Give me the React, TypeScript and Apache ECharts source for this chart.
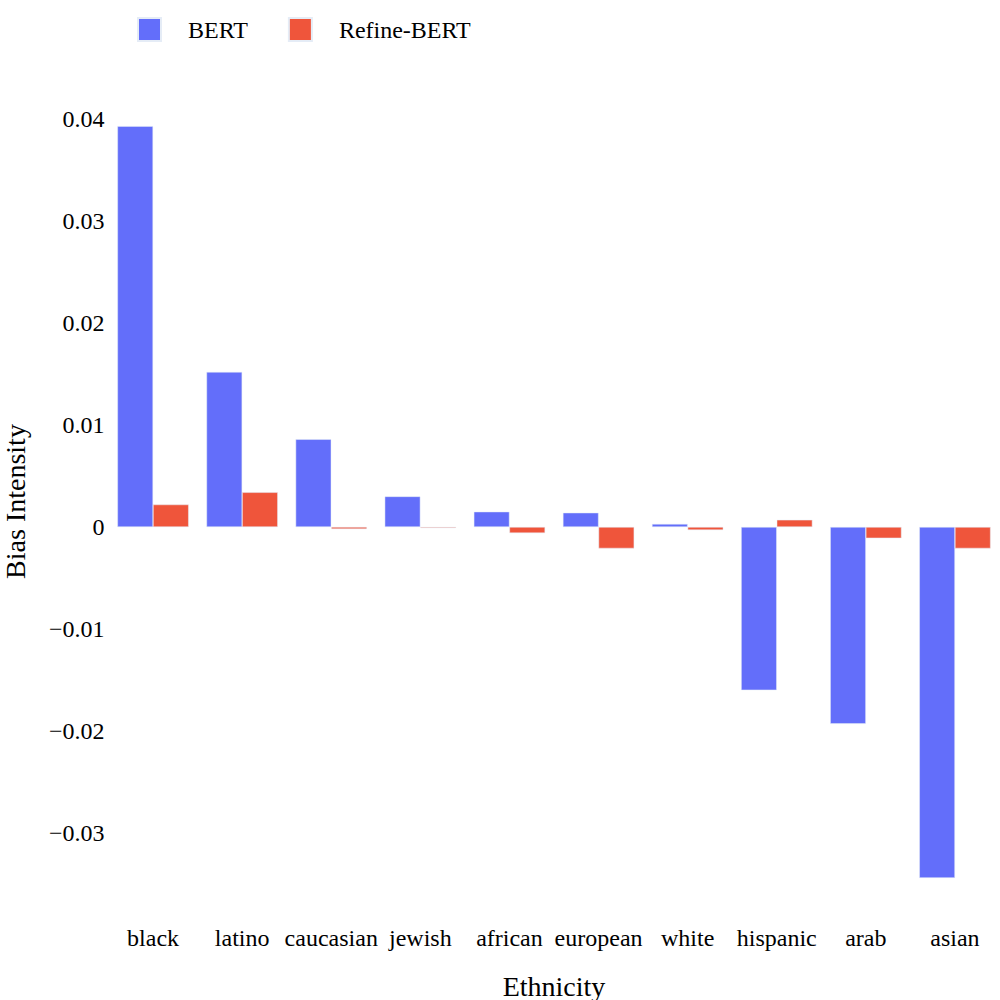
import React, { useEffect, useRef } from "react";
import * as echarts from "echarts";

const categories = ["black", "latino", "caucasian", "jewish", "african", "european", "white", "hispanic", "arab", "asian"];
const bertValues = [0.0393, 0.0152, 0.0086, 0.0030, 0.0015, 0.0014, 0.0003, -0.0160, -0.0193, -0.0344];
const refineValues = [0.0022, 0.0034, -0.0002, -0.0001, -0.0006, -0.0021, -0.0003, 0.0007, -0.0011, -0.0021];
const seriesNames = ["BERT", "Refine-BERT"];
const colors = ["#636EFA", "#EF553B"];

const FONT = "'Liberation Serif', 'Times New Roman', serif";

export default function App() {
  const ref = useRef<HTMLDivElement>(null);
  useEffect(() => {
    if (!ref.current) return;
    const chart = echarts.init(ref.current, undefined, { renderer: "svg" });
    chart.setOption({
      animation: false,
      backgroundColor: "#ffffff",
      textStyle: { fontFamily: FONT, color: "#000" },
      legend: {
        top: 12,
        left: 132,
        itemWidth: 23,
        itemHeight: 23,
        itemGap: 40,
        icon: "rect",
        data: seriesNames,
        textStyle: { fontFamily: FONT, fontSize: 24, color: "#000", padding: [0, 0, 0, 22] },
      },
      grid: { left: 108.5, right: 0.5, top: 119, bottom: 116, containLabel: false, outerBoundsMode: "none" },
      xAxis: {
        type: "category",
        data: categories,
        name: "Ethnicity",
        nameLocation: "middle",
        nameGap: 88,
        nameTextStyle: { fontFamily: FONT, fontSize: 28, color: "#000" },
        axisLine: { show: false, onZero: false },
        axisTick: { show: false },
        axisLabel: { fontFamily: FONT, fontSize: 24, color: "#000", margin: 42, interval: 0 },
      },
      yAxis: {
        type: "value",
        min: -0.035,
        max: 0.04,
        interval: 0.005,
        name: "Bias Intensity",
        nameLocation: "middle",
        nameGap: 79,
        nameTextStyle: { fontFamily: FONT, fontSize: 28, color: "#000" },
        axisLine: { show: false },
        axisTick: { show: false },
        splitLine: { show: false },
        axisLabel: {
          fontFamily: FONT,
          fontSize: 24,
          color: "#000",
          margin: 4,
          formatter: (v: number) => {
            const k = Math.round(v * 1000);
            if (k % 10 !== 0) return "";
            if (k === 0) return "0";
            const s = (Math.abs(k) / 1000).toFixed(2);
            return k < 0 ? "\u2212" + s : s;
          },
        },
      },
      series: [
        {
          name: seriesNames[0],
          type: "bar",
          data: bertValues,
          barGap: "0%",
          barCategoryGap: "20%",
          itemStyle: { color: colors[0], borderColor: "#E5ECF6", borderWidth: 0.5 },
        },
        {
          name: seriesNames[1],
          type: "bar",
          data: refineValues,
          barGap: "0%",
          barCategoryGap: "20%",
          itemStyle: { color: colors[1], borderColor: "#E5ECF6", borderWidth: 0.5 },
        },
      ],
    });
    return () => chart.dispose();
  }, []);
  return <div ref={ref} style={{ width: 1000, height: 1000, position: "absolute", left: 0, top: 0 }} />;
}
